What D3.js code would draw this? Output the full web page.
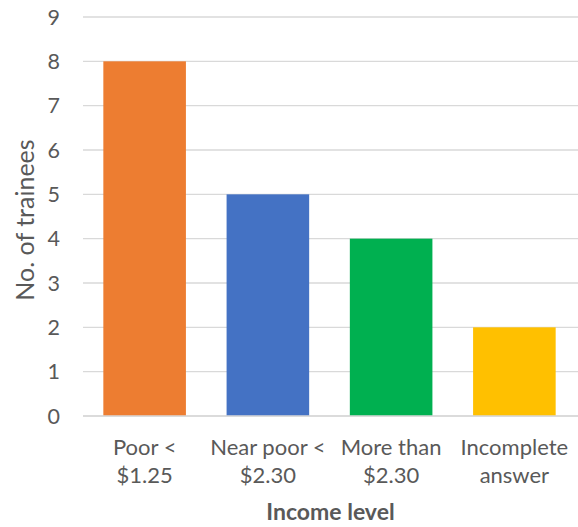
<!DOCTYPE html>
<html>
<head>
<meta charset="utf-8">
<script src="https://cdn.jsdelivr.net/npm/d3@7"></script>
<style>
  body { margin: 0; background: #fff; }
  text { font-family: Lato, "Open Sans", sans-serif; fill: #595959; }
</style>
</head>
<body>
<svg id="chart" width="578" height="527"></svg>
<script>
// Income level of trainees
const categories = [["Poor <", "$1.25"], ["Near poor <", "$2.30"], ["More than", "$2.30"], ["Incomplete", "answer"]];
const values = [8, 5, 4, 2];
const colors = ["#ED7D31", "#4472C4", "#00B050", "#FFC000"];
const yTicks = [0, 1, 2, 3, 4, 5, 6, 7, 8, 9];
const xTitle = "Income level";
const yTitle = "No. of trainees";

(function () {
const svg = d3.select("#chart");
const plotLeft = 83, plotRight = 576, plotTop = 17, plotBottom = 416;

const x = d3.scaleBand().domain(d3.range(categories.length)).range([plotLeft, plotRight]).paddingInner(0.33).paddingOuter(0.165);
const y = d3.scaleLinear().domain([0, 9]).range([plotBottom, plotTop]);

// gridlines
svg.append("g").selectAll("line").data(yTicks).join("line")
  .attr("x1", plotLeft).attr("x2", 578)
  .attr("y1", d => y(d)).attr("y2", d => y(d))
  .attr("stroke", "#D9D9D9").attr("stroke-width", 1.3);

// bars
svg.append("g").selectAll("rect").data(values).join("rect")
  .attr("x", (d, i) => x(i)).attr("width", x.bandwidth())
  .attr("y", d => y(d)).attr("height", d => y(0) - y(d))
  .attr("fill", (d, i) => colors[i]);

// baseline
svg.append("line").attr("x1", plotLeft).attr("x2", 578).attr("y1", y(0)).attr("y2", y(0))
  .attr("stroke", "#D9D9D9").attr("stroke-width", 1.3);

// y tick labels
svg.append("g").selectAll("text").data(yTicks).join("text")
  .attr("x", 60).attr("y", d => y(d)).attr("dy", "0.36em")
  .attr("text-anchor", "end").attr("font-size", 21.5).text(d => d);

// category labels
const cat = svg.append("g").selectAll("text").data(categories).join("text")
  .attr("text-anchor", "middle").attr("font-size", 22)
  .attr("transform", (d, i) => `translate(${x(i) + x.bandwidth() / 2},0)`);
cat.selectAll("tspan").data(d => d).join("tspan")
  .attr("x", 0).attr("y", (d, j) => 455 + j * 28).text(d => d);

// axis titles
svg.append("text").attr("x", (plotLeft + plotRight) / 2 + 1).attr("y", 520)
  .attr("text-anchor", "middle").attr("font-size", 23).attr("font-weight", "bold")
  .text(xTitle);
svg.append("text").attr("transform", "translate(34,220) rotate(-90)")
  .attr("text-anchor", "middle").attr("font-size", 25).text(yTitle);
})();
</script>
</body>
</html>
